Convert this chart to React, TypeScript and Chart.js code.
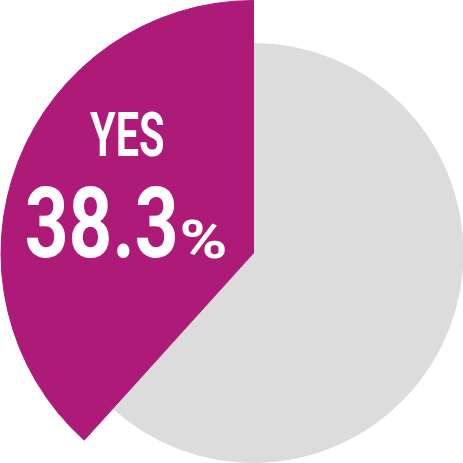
import React, { useEffect, useRef } from "react";
import { Chart, registerables } from "chart.js";

Chart.register(...registerables);

const categories = ["NO", "YES"];
const shares = [61.7, 38.3];
const sliceColors = ["#DCDCDC", "#AE1A77"];
// The YES slice reaches further out than the NO slice: an outer ring only shows YES.
const outerRingColors = ["rgba(0,0,0,0)", "#AE1A77"];
const labelTitle = "YES";
const labelValue = "38.3";
const labelUnit = "%";

const FONT = 'Roboto, "Liberation Sans", sans-serif';

// Draw text so that its ink fills the box [left,right] x [top,baseline].
function drawInk(ctx: CanvasRenderingContext2D, text: string, left: number, right: number, top: number, baseline: number) {
  ctx.textAlign = "left";
  ctx.textBaseline = "alphabetic";
  ctx.font = `bold 100px ${FONT}`;
  const m = ctx.measureText(text);
  const size = (100 * (baseline - top)) / m.actualBoundingBoxAscent;
  ctx.font = `bold ${size}px ${FONT}`;
  const m2 = ctx.measureText(text);
  const inkW = m2.actualBoundingBoxLeft + m2.actualBoundingBoxRight;
  const sx = (right - left) / inkW;
  ctx.save();
  ctx.translate(left, baseline);
  ctx.scale(sx, 1);
  ctx.fillText(text, m2.actualBoundingBoxLeft, 0);
  ctx.restore();
}

const labelPlugin = {
  id: "yesLabel",
  afterDraw(chart: any) {
    const ctx = chart.ctx as CanvasRenderingContext2D;
    const arc = chart.getDatasetMeta(0).data[1];
    const cx = arc.x;
    const cy = arc.y;
    ctx.save();
    ctx.fillStyle = "#ffffff";
    drawInk(ctx, labelTitle, cx - 163.5, cx - 90.5, cy - 141, cy - 97);
    drawInk(ctx, labelValue, cx - 226.5, cx - 78.5, cy - 68, cy + 4);
    drawInk(ctx, labelUnit, cx - 71.5, cx - 28.5, cy - 33, cy + 5);
    ctx.restore();
  },
};

export default function App() {
  const ref = useRef<HTMLCanvasElement>(null);
  useEffect(() => {
    if (!ref.current) return;
    const chart = new Chart(ref.current, {
      type: "pie",
      data: {
        labels: categories,
        datasets: [
          {
            data: shares,
            backgroundColor: outerRingColors,
            borderColor: outerRingColors,
            borderWidth: 1,
            weight: 43,
          } as any,
          {
            data: shares,
            backgroundColor: sliceColors,
            borderColor: sliceColors,
            borderWidth: 1,
            weight: 209.5,
          } as any,
        ],
      },
      options: {
        responsive: false,
        animation: false,
        events: [],
        layout: { padding: 0 },
        plugins: {
          legend: { display: false },
          tooltip: { enabled: false },
        },
      },
      plugins: [labelPlugin],
    });
    return () => chart.destroy();
  }, []);
  return (
    <div style={{ position: "absolute", left: 0, top: 0, width: 463, height: 463, overflow: "hidden", background: "#fff" }}>
      <canvas ref={ref} width={507} height={506} style={{ display: "block", width: 507, height: 506 }} />
    </div>
  );
}
